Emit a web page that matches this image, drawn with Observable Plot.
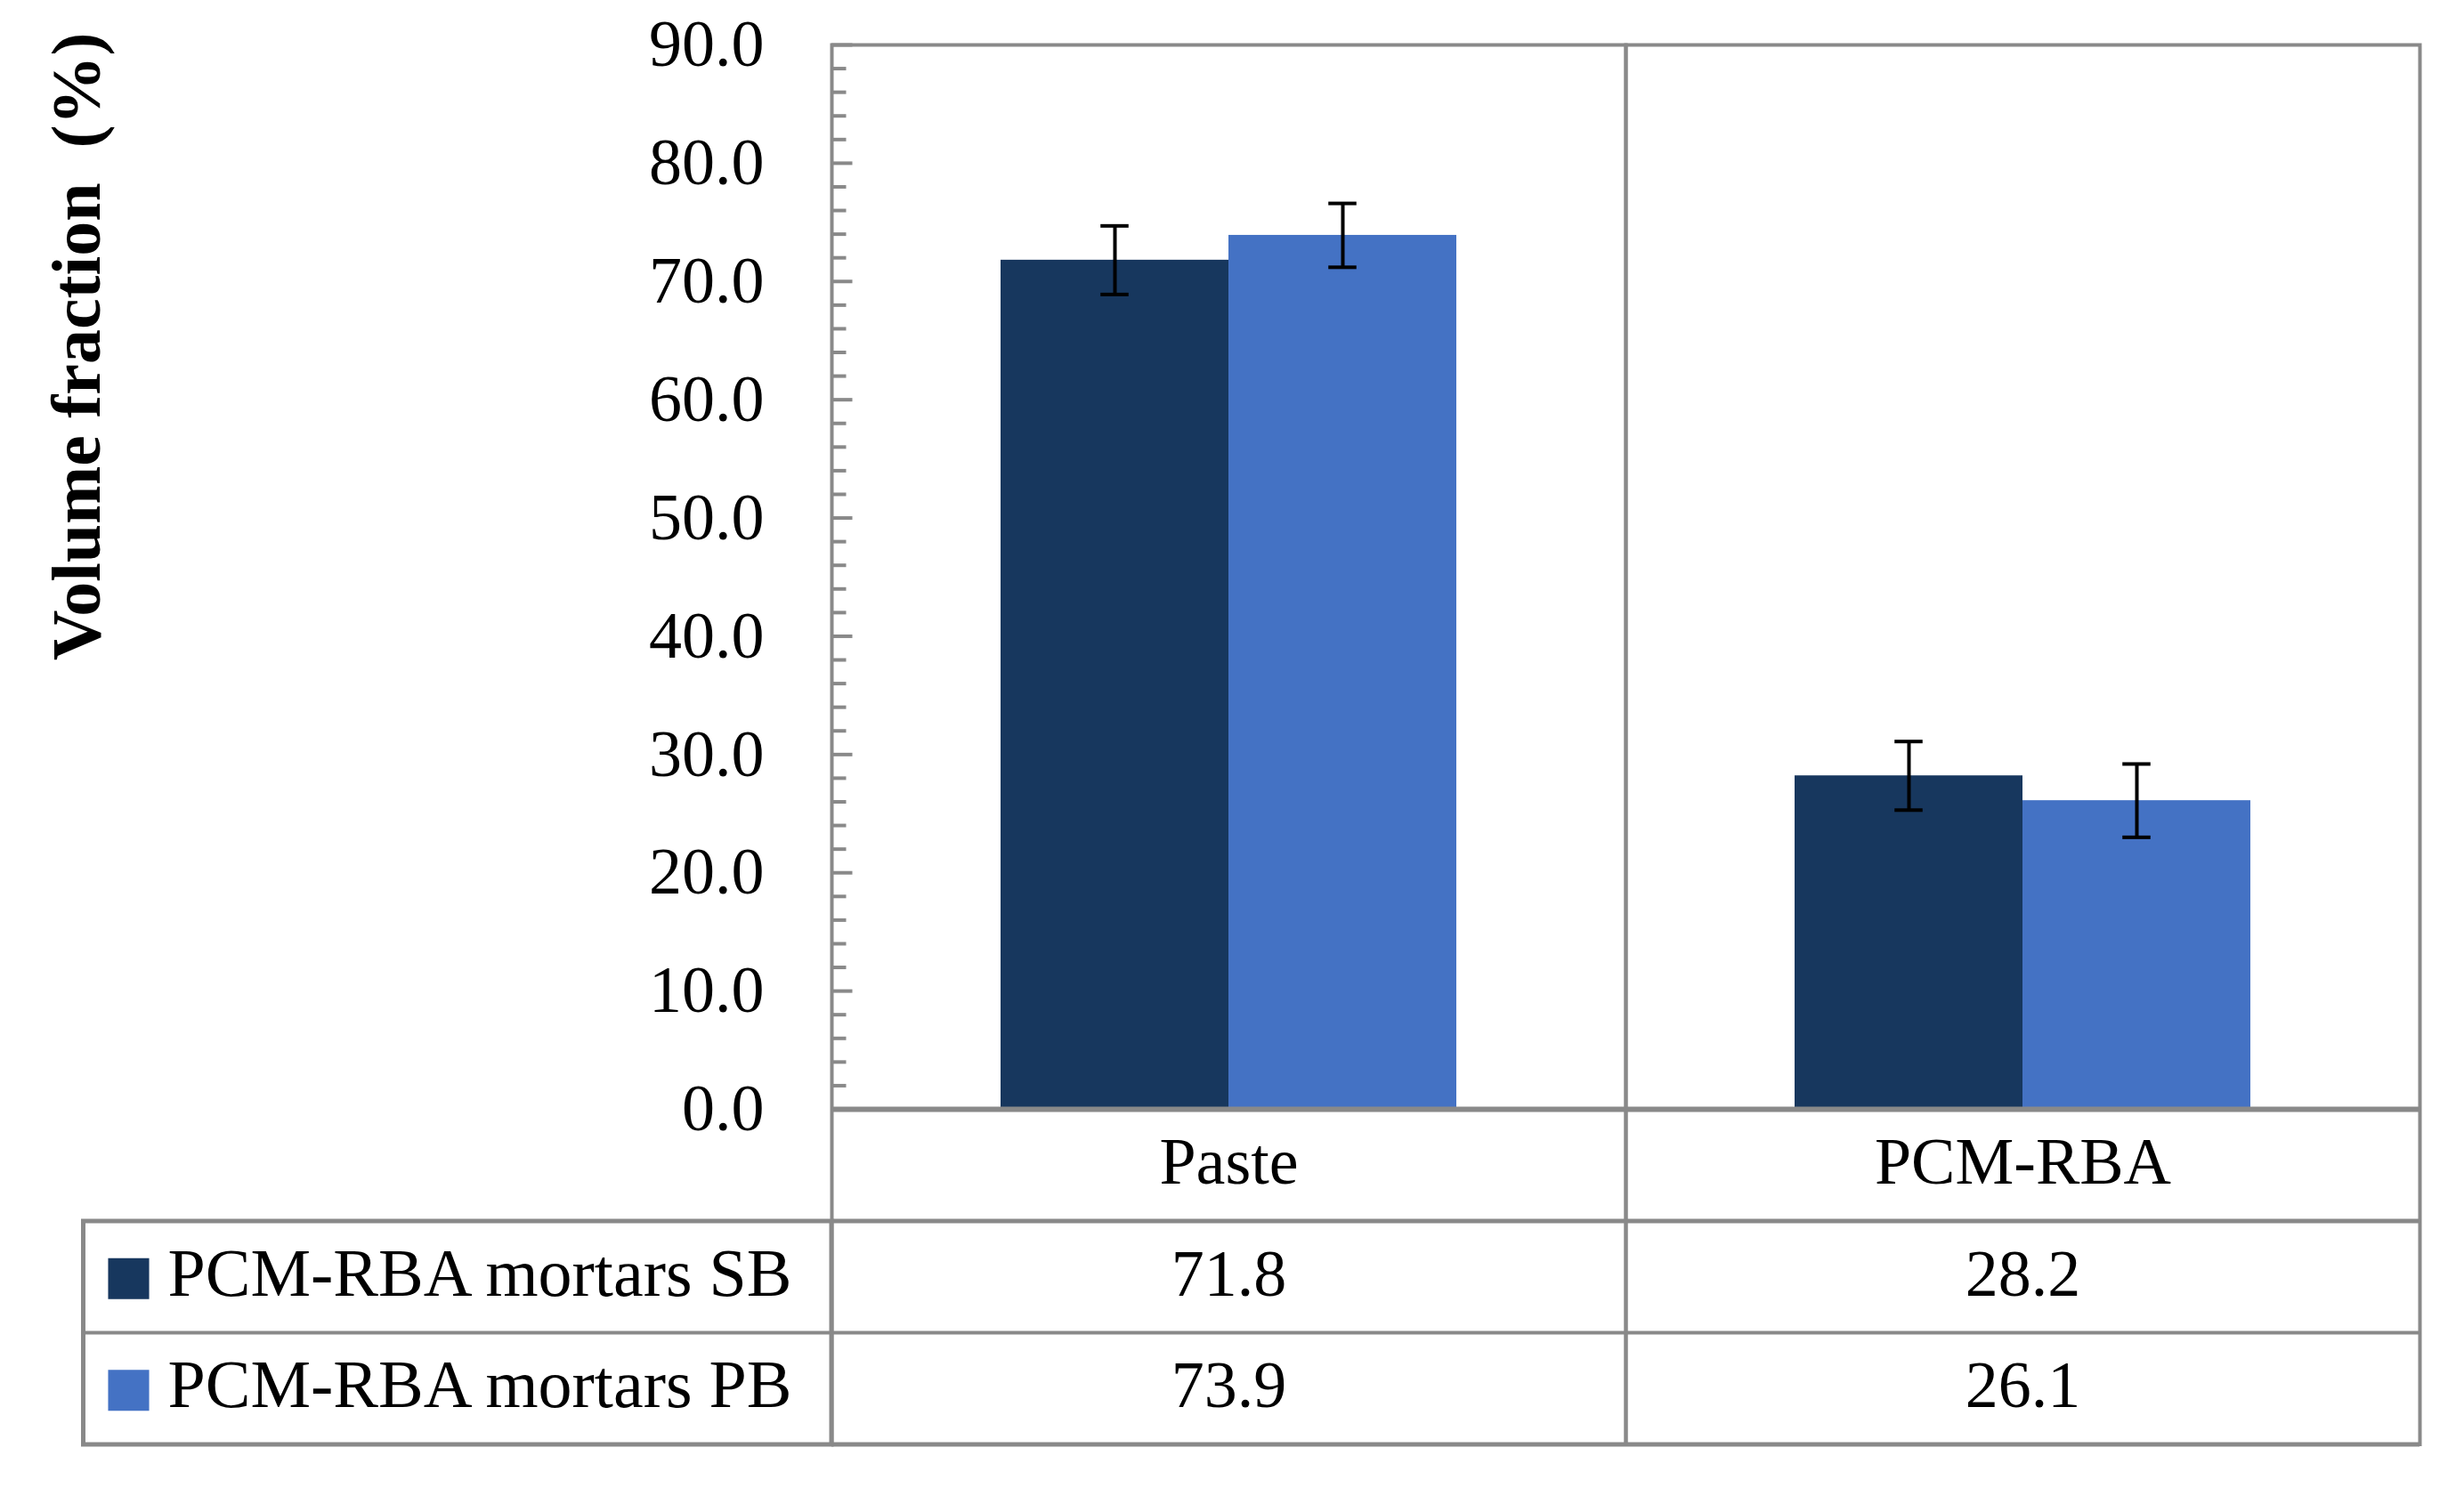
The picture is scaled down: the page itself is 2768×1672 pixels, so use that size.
<!DOCTYPE html>
<html>
<head>
<meta charset="utf-8">
<script src="https://cdn.jsdelivr.net/npm/d3@7"></script>
<script src="https://cdn.jsdelivr.net/npm/@observablehq/plot@0.6"></script>
<style>
  html, body { margin: 0; padding: 0; background: #ffffff; }
  #chart svg { display: block; }
</style>
</head>
<body>
<div id="chart"></div>
<script>
// ---- data ----
const categories = ["Paste", "PCM-RBA"];
const seriesNames = ["PCM-RBA mortars SB", "PCM-RBA mortars PB"];
const sbValues = [71.8, 28.2];
const pbValues = [73.9, 26.1];
const sbErrors = [2.9, 2.9];
const pbErrors = [2.7, 3.1];
const yTicks = [0, 10, 20, 30, 40, 50, 60, 70, 80, 90];
const yLabel = "Volume fraction\u00a0\u00a0(%)";
const colors = ["#17375E", "#4472C4"];

// ---- layout ----
const W = 2768, H = 1672;
const mL = 933, mR = 50, mT = 50, mB = 426;
const rowH = 125.5;
const tableLeft = 92;
const facetW = (W - mL - mR) / categories.length;
const padOuter = 0.74;
const barW = facetW / (seriesNames.length + 2 * padOuter);
const capW = 32;
const gray = "#898989";
const font = "'Liberation Serif', 'Times New Roman', serif";
const fs = 74;
const tdy = 21; // vertical nudge of table text
const first = () => categories[0];

const data = [];
categories.forEach((c, i) => {
  data.push({category: c, series: seriesNames[0], value: sbValues[i], err: sbErrors[i]});
  data.push({category: c, series: seriesNames[1], value: pbValues[i], err: pbErrors[i]});
});

const minorTicks = d3.range(0, 91, 2).filter(v => v % 10 !== 0);

const marks = [
  Plot.barY(data, {fx: "category", x: "series", y: "value", fill: "series"}),
  Plot.ruleX(data, {fx: "category", x: "series", y1: d => d.value - d.err, y2: d => d.value + d.err, stroke: "black", strokeWidth: 4}),
  Plot.tickY(data, {fx: "category", x: "series", y: d => d.value + d.err, stroke: "black", strokeWidth: 4, inset: (barW - capW) / 2}),
  Plot.tickY(data, {fx: "category", x: "series", y: d => d.value - d.err, stroke: "black", strokeWidth: 4, inset: (barW - capW) / 2}),
  // inner ticks on the value axis
  Plot.ruleY(minorTicks, {fx: first, y: d => d, stroke: gray, strokeWidth: 4, insetRight: facetW - 17}),
  Plot.ruleY(yTicks, {fx: first, y: d => d, stroke: gray, strokeWidth: 4, insetRight: facetW - 24}),
  // plot frame + table columns
  Plot.frame({stroke: gray, strokeWidth: 4, insetBottom: -3 * rowH}),
  Plot.ruleY([0], {stroke: gray, strokeWidth: 6}),
  Plot.ruleY([0], {dy: rowH, stroke: gray, strokeWidth: 5}),
  Plot.ruleY([0], {dy: 2 * rowH, stroke: gray, strokeWidth: 4}),
  Plot.ruleY([0], {dy: 3 * rowH, stroke: gray, strokeWidth: 5}),
  // left legend column of the table
  Plot.frame({fx: first, stroke: gray, strokeWidth: 5, insetLeft: -(mL - tableLeft), insetRight: facetW, insetTop: (H - mT - mB) + rowH, insetBottom: -3 * rowH}),
  Plot.ruleY([0], {fx: first, dy: 2 * rowH, stroke: gray, strokeWidth: 4, insetLeft: -(mL - tableLeft), insetRight: facetW}),
  // y axis labels
  Plot.axisY({ticks: yTicks, tickFormat: d => d.toFixed(1), tickSize: 0, tickPadding: 76, fontSize: fs, label: null, fill: "black"}),
  Plot.text([yLabel], {fx: first, frameAnchor: "top-left", rotate: -90, textAnchor: "end", lineAnchor: "middle", dx: 86 - mL, dy: -14, text: d => d, fontSize: 78, fontWeight: "bold", fill: "black"}),
  // category row
  Plot.text(categories, {fx: d => d, frameAnchor: "bottom", dy: rowH / 2 + tdy, text: d => d, fontSize: fs, fill: "black"}),
  // value rows
  Plot.text(data.filter(d => d.series === seriesNames[0]), {fx: "category", frameAnchor: "bottom", dy: 1.5 * rowH + tdy, text: d => d.value.toFixed(1), fontSize: fs, fill: "black"}),
  Plot.text(data.filter(d => d.series === seriesNames[1]), {fx: "category", frameAnchor: "bottom", dy: 2.5 * rowH + tdy, text: d => d.value.toFixed(1), fontSize: fs, fill: "black"}),
  // legend column: swatches + names
  Plot.dot([seriesNames[0]], {fx: first, frameAnchor: "bottom-left", dx: 143 - mL, dy: 1.5 * rowH + 2, symbol: "square", r: 26, fill: d => d}),
  Plot.dot([seriesNames[1]], {fx: first, frameAnchor: "bottom-left", dx: 143 - mL, dy: 2.5 * rowH + 2, symbol: "square", r: 26, fill: d => d}),
  Plot.text([seriesNames[0]], {fx: first, frameAnchor: "bottom-left", textAnchor: "start", dx: 187 - mL, dy: 1.5 * rowH + tdy, text: d => d, fontSize: fs + 2, fill: "black"}),
  Plot.text([seriesNames[1]], {fx: first, frameAnchor: "bottom-left", textAnchor: "start", dx: 187 - mL, dy: 2.5 * rowH + tdy, text: d => d, fontSize: fs + 2, fill: "black"})
];

const chart = Plot.plot({
  width: W,
  height: H,
  marginLeft: mL,
  marginRight: mR,
  marginTop: mT,
  marginBottom: mB,
  style: {fontFamily: font, background: "#ffffff"},
  fx: {domain: categories, padding: 0, axis: null},
  x: {domain: seriesNames, paddingInner: 0, paddingOuter: padOuter, axis: null},
  y: {domain: [0, 90], axis: null},
  color: {domain: seriesNames, range: colors},
  marks
});
document.getElementById("chart").appendChild(chart);
</script>
</body>
</html>
